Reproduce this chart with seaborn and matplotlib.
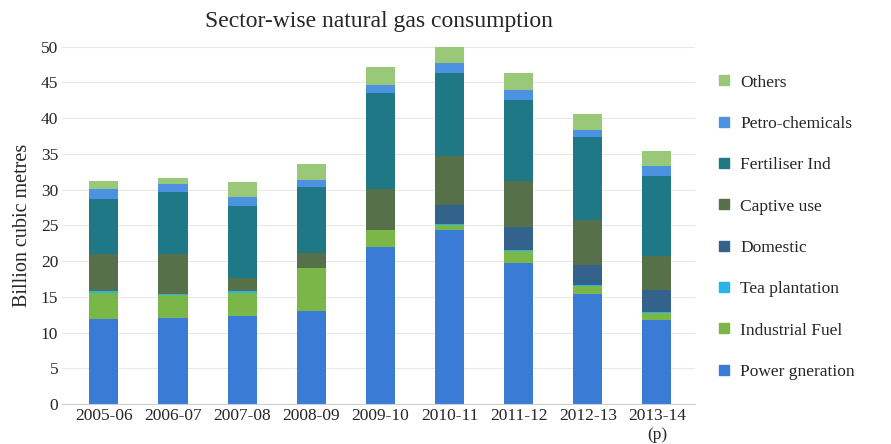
import numpy as np
import pandas as pd
import seaborn as sns
import matplotlib.pyplot as plt
from matplotlib.lines import Line2D

years = ["2005-06", "2006-07", "2007-08", "2008-09", "2009-10",
         "2010-11", "2011-12", "2012-13", "2013-14\n(p)"]

power = [11.9, 12.1, 12.3, 13.0, 22.0, 24.3, 19.7, 15.4, 11.7]
industrial = [3.7, 3.1, 3.3, 6.0, 2.3, 0.8, 1.7, 1.1, 1.05]
tea = [0.15, 0.15, 0.15, 0.1, 0.1, 0.1, 0.1, 0.1, 0.1]
domestic = [0.0, 0.0, 0.0, 0.0, 0.0, 2.6, 3.3, 2.9, 3.05]
captive = [5.3, 5.7, 1.95, 2.0, 5.7, 6.9, 6.4, 6.3, 4.75]
fertiliser = [7.7, 8.6, 10.0, 9.2, 13.4, 11.6, 11.4, 11.5, 11.25]
petro = [1.3, 1.2, 1.3, 1.1, 1.1, 1.4, 1.4, 1.1, 1.4]
others = [1.2, 0.8, 2.0, 2.2, 2.6, 2.3, 2.3, 2.2, 2.1]

sectors = ["Power gneration", "Industrial Fuel", "Tea plantation", "Domestic",
           "Captive use", "Fertiliser Ind", "Petro-chemicals", "Others"]
values = [power, industrial, tea, domestic, captive, fertiliser, petro, others]
colors = ["#3a7bd5", "#7ab648", "#27b4ec", "#33628c",
          "#56704a", "#1f7886", "#4d92e0", "#98c878"]

sns.set_style("whitegrid")
plt.rcParams["font.family"] = ["Liberation Serif", "DejaVu Serif"]

fig = plt.figure(figsize=(8.91, 4.44), dpi=100)
ax = fig.add_axes([0.07, 0.09, 0.71, 0.805])

# stack the sectors bottom-up
bottom = np.zeros(len(years))
for name, vals, col in zip(sectors, values, colors):
    df = pd.DataFrame({"year": years, "value": vals})
    sns.barplot(data=df, x="year", y="value", color=col, width=0.42,
                bottom=bottom.copy(), saturation=1, linewidth=0, ax=ax)
    bottom += np.array(vals)

ax.set_ylim(0, 50)
ax.set_yticks(range(0, 51, 5))
ax.set_xlim(-0.6, len(years) - 0.45)
ax.set_xlabel("")
ax.set_ylabel("Billion cubic metres", fontsize=14.5, labelpad=6)
ax.set_title("Sector-wise natural gas consumption", fontsize=17, pad=14)
ax.tick_params(axis="both", labelsize=12.5, length=0, pad=3)
ax.grid(axis="y", color="#e8e8e8", linewidth=0.8)
ax.grid(axis="x", visible=False)
for s in ["top", "right", "left"]:
    ax.spines[s].set_visible(False)
ax.spines["bottom"].set_color("#d0d0d0")

handles = [Line2D([0], [0], marker="s", linestyle="", markersize=7.5,
                  markerfacecolor=c, markeredgecolor=c)
           for c in colors[::-1]]
ax.legend(handles, sectors[::-1], loc="center left",
          bbox_to_anchor=(1.0, 0.495), frameon=False, fontsize=12.5,
          labelspacing=1.45, handletextpad=0.2, handlelength=1.5)

fig.savefig("out.png", dpi=100)
